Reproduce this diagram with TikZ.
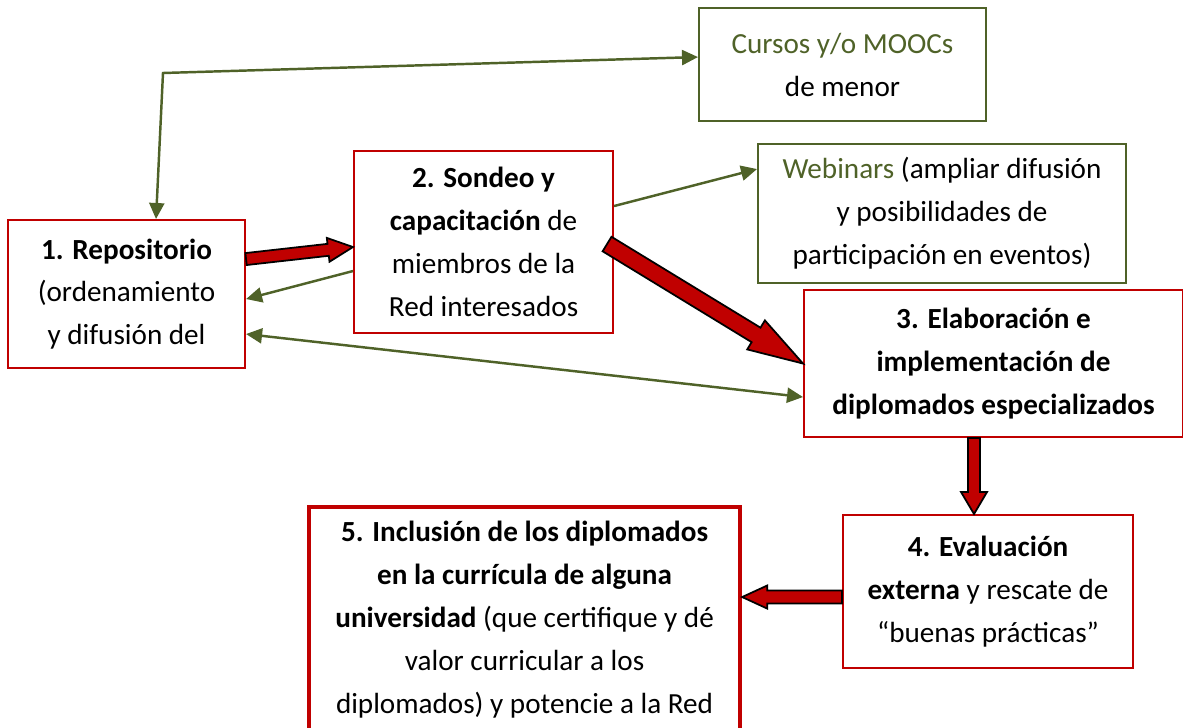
\documentclass[tikz,border=0pt]{standalone}
\usepackage{fontspec}
\setmainfont{Carlito}
\usetikzlibrary{arrows.meta,calc}
\definecolor{netred}{HTML}{C00000}
\definecolor{netgreen}{HTML}{4F6228}

% block arrow: start, end, shaft half width, head half width, head length
\newcommand{\blockarrow}[5]{%
  \coordinate (hb) at ($(#2)!#5!(#1)$);
  \filldraw[fill=netred, draw=black, line width=1pt, line join=miter]
    ($(#1)!#3!90:(#2)$) -- ($(hb)!#3!90:(#2)$) -- ($(hb)!#4!90:(#2)$) -- (#2)
    -- ($(hb)!#4!-90:(#2)$) -- ($(hb)!#3!-90:(#2)$) -- ($(#1)!#3!-90:(#2)$) -- cycle;
}

\begin{document}
\begin{tikzpicture}[x=0.02cm, y=-0.02cm,
    stage/.style={draw=netred, line width=1.2pt, rectangle, inner sep=0pt, anchor=north west, align=center, font=\fontsize{16.6pt}{24.4pt}\selectfont},
    extra/.style={stage, draw=netgreen},
    link/.style={draw=netgreen, line width=1.4pt},
    >={Triangle[length=3.2mm, width=3mm]},
]
\useasboundingbox (0,0) rectangle (1183,727);

% stages
\node[stage, minimum width=4.74cm, minimum height=2.96cm] (repo) at (7,219) {\textbf{1. Repositorio}\\(ordenamiento\\y difusión del};
\node[stage, minimum width=5.18cm, minimum height=3.64cm] (sondeo) at (353,150) {\textbf{2. Sondeo y}\\\textbf{capacitación} de\\miembros de la\\Red interesados};
\node[extra, minimum width=5.74cm, minimum height=2.26cm] (cursos) at (698,7) {\textcolor{netgreen}{Cursos y/o MOOCs}\\de menor};
\node[extra, minimum width=7.36cm, minimum height=2.78cm] (webinar) at (757,143) {\textcolor{netgreen}{Webinars} (ampliar difusión\\y posibilidades de\\participación en eventos)};
\node[stage, minimum width=7.58cm, minimum height=2.94cm] (elab) at (803,289) {\textbf{3. Elaboración e}\\\textbf{implementación de}\\\textbf{diplomados especializados}};
\node[stage, minimum width=5.80cm, minimum height=3.06cm] (evalua) at (842,514) {\textbf{4. Evaluación}\\\textbf{externa} y rescate de\\“buenas prácticas”};
\node[stage, line width=2.4pt, minimum width=8.62cm, minimum height=4.5cm] (inclus) at (307,505) {\textbf{5. Inclusión de los diplomados}\\\textbf{en la currícula de alguna}\\\textbf{universidad} (que certifique y dé\\valor curricular a los\\diplomados) y potencie a la Red};

% green links
\coordinate (knee) at (163,73);
\draw[link,<->] ([xshift=0.59cm]repo.north) -- (knee) -- ([yshift=0.15cm]cursos.west);
\draw[link,->] ([yshift=0.72cm]sondeo.east) -- ([yshift=0.89cm]webinar.west);
\draw[link,->] ([yshift=-0.58cm]sondeo.west) -- ([yshift=-0.1cm]repo.east);
\draw[link,<->] ([yshift=-0.8cm]repo.east) -- ([yshift=-0.67cm]elab.west);

% red block arrows
\coordinate (a1) at ([yshift=0.7cm]repo.east);
\coordinate (b1) at ([yshift=-0.1cm]sondeo.west);
\blockarrow{a1}{b1}{0.12cm}{0.24cm}{0.5cm}
\coordinate (a2) at ([xshift=-0.14cm,yshift=-0.04cm]sondeo.east);
\blockarrow{a2}{elab.west}{0.17cm}{0.34cm}{1.1cm}
\coordinate (a3) at ([xshift=-0.39cm]elab.south);
\coordinate (b3) at (a3 |- evalua.north);
\blockarrow{a3}{b3}{0.12cm}{0.26cm}{0.44cm}
\coordinate (a4) at ([yshift=-0.11cm]evalua.west);
\coordinate (b4) at (a4 -| inclus.east);
\blockarrow{a4}{b4}{0.13cm}{0.23cm}{0.5cm}
\end{tikzpicture}
\end{document}
